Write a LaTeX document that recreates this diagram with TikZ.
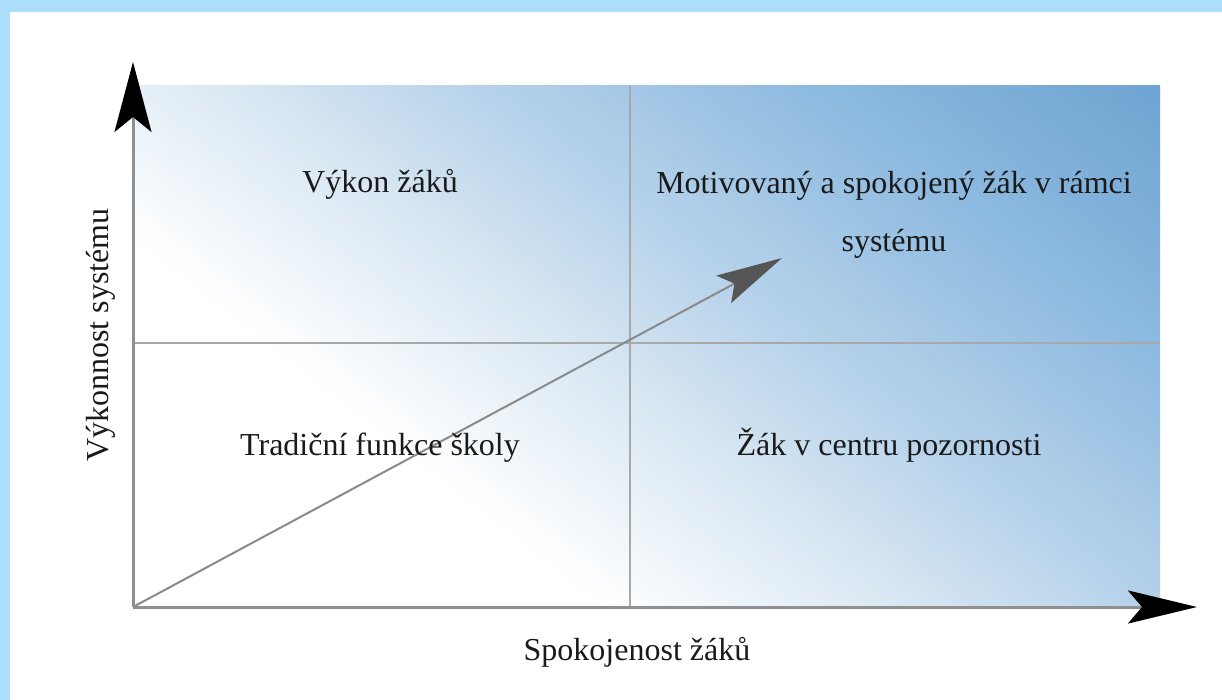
\documentclass[tikz,border=0pt]{standalone}
\usepackage{fontspec}
\setmainfont{Liberation Serif}
\usetikzlibrary{arrows.meta}
\definecolor{bord}{RGB}{170,222,250}
\definecolor{gA}{HTML}{DAE8F3}
\definecolor{gB}{HTML}{B6D2EA}
\definecolor{gC}{HTML}{8DBAE0}
\definecolor{gD}{HTML}{6AA2CF}
\definecolor{txt}{HTML}{1A1A1A}
\definecolor{axisgray}{HTML}{909090}
\definecolor{divgray}{HTML}{A8A8A8}
\definecolor{diaggray}{HTML}{8A8A8A}
\definecolor{diagtip}{HTML}{555555}
\def\gradL{1040}
\newcommand\gradseg[5]{%
  \foreach \i in {1,...,#5}{%
    \pgfmathsetmacro\ga{(#1+(#2-#1)*(\i-1)/#5)*\gradL}%
    \pgfmathsetmacro\gb{\ga+(#2-#1)*\gradL/#5+0.8}%
    \pgfmathtruncatemacro\pc{100*(\i-0.5)/#5}%
    \fill[#4!\pc!#3] (\ga,-900) -- (\gb,-900) -- (\gb,900) -- (\ga,900) -- cycle;
  }}
\begin{document}
\begin{tikzpicture}[x=1pt,y=-1pt,
  lbl/.style={font=\fontsize{32}{58}\selectfont, text=txt, inner sep=0pt},
  axisline/.style={draw=axisgray, line width=3pt},
  divline/.style={draw=divgray, line width=1.6pt}]
\useasboundingbox (0,0) rectangle (1222,700);
\fill[white] (0,0) rectangle (1222,700);
\fill[bord] (0,0) rectangle (1222,12);
\fill[bord] (0,0) rectangle (10,700);
% gradient plot area
\begin{scope}
  \clip (133,86) rectangle (1160,607);
  \begin{scope}[shift={(133,607)}, rotate=52]
    \gradseg{0.28}{0.45}{white}{gA}{25}
    \gradseg{0.45}{0.6}{gA}{gB}{25}
    \gradseg{0.6}{0.8}{gB}{gC}{30}
    \gradseg{0.8}{1.02}{gC}{gD}{30}
  \end{scope}
\end{scope}
\coordinate (O) at (133,607);
\coordinate (ytip) at (133,62);
\coordinate (xtip) at (1197,607);
\coordinate (dtip) at (782,258);
\coordinate (vtop) at (630,86);
\coordinate (vbot) at (630,607);
\coordinate (hl) at (133,343);
\coordinate (hr) at (1160,343);
\draw[divline] (vtop) -- (vbot);
\draw[divline] (hl) -- (hr);
\draw[draw=diaggray, line width=2pt, -{Stealth[length=66pt,width=31pt,inset=12pt,color=diagtip]}] (O) -- (dtip);
\draw[axisline, -{Stealth[length=70pt,width=37pt,inset=15pt,color=black]}] (O) -- (ytip);
\draw[axisline, -{Stealth[length=69pt,width=33pt,inset=14pt,color=black]}] (O) -- (xtip);
\node[lbl, anchor=base] (q1) at (380,193) {Výkon žáků};
\node[lbl, align=center] (q2) at (894,215) {Motivovaný a spokojený žák v rámci\\systému};
\node[lbl, anchor=base] (q3) at (380,455) {Tradiční funkce školy};
\node[lbl, anchor=base] (q4) at (889,455) {Žák v centru pozornosti};
\node[lbl, anchor=base] (xl) at (637,660) {Spokojenost žáků};
\node[lbl, anchor=base, rotate=90] (yl) at (108,335) {Výkonnost systému};
\end{tikzpicture}
\end{document}
